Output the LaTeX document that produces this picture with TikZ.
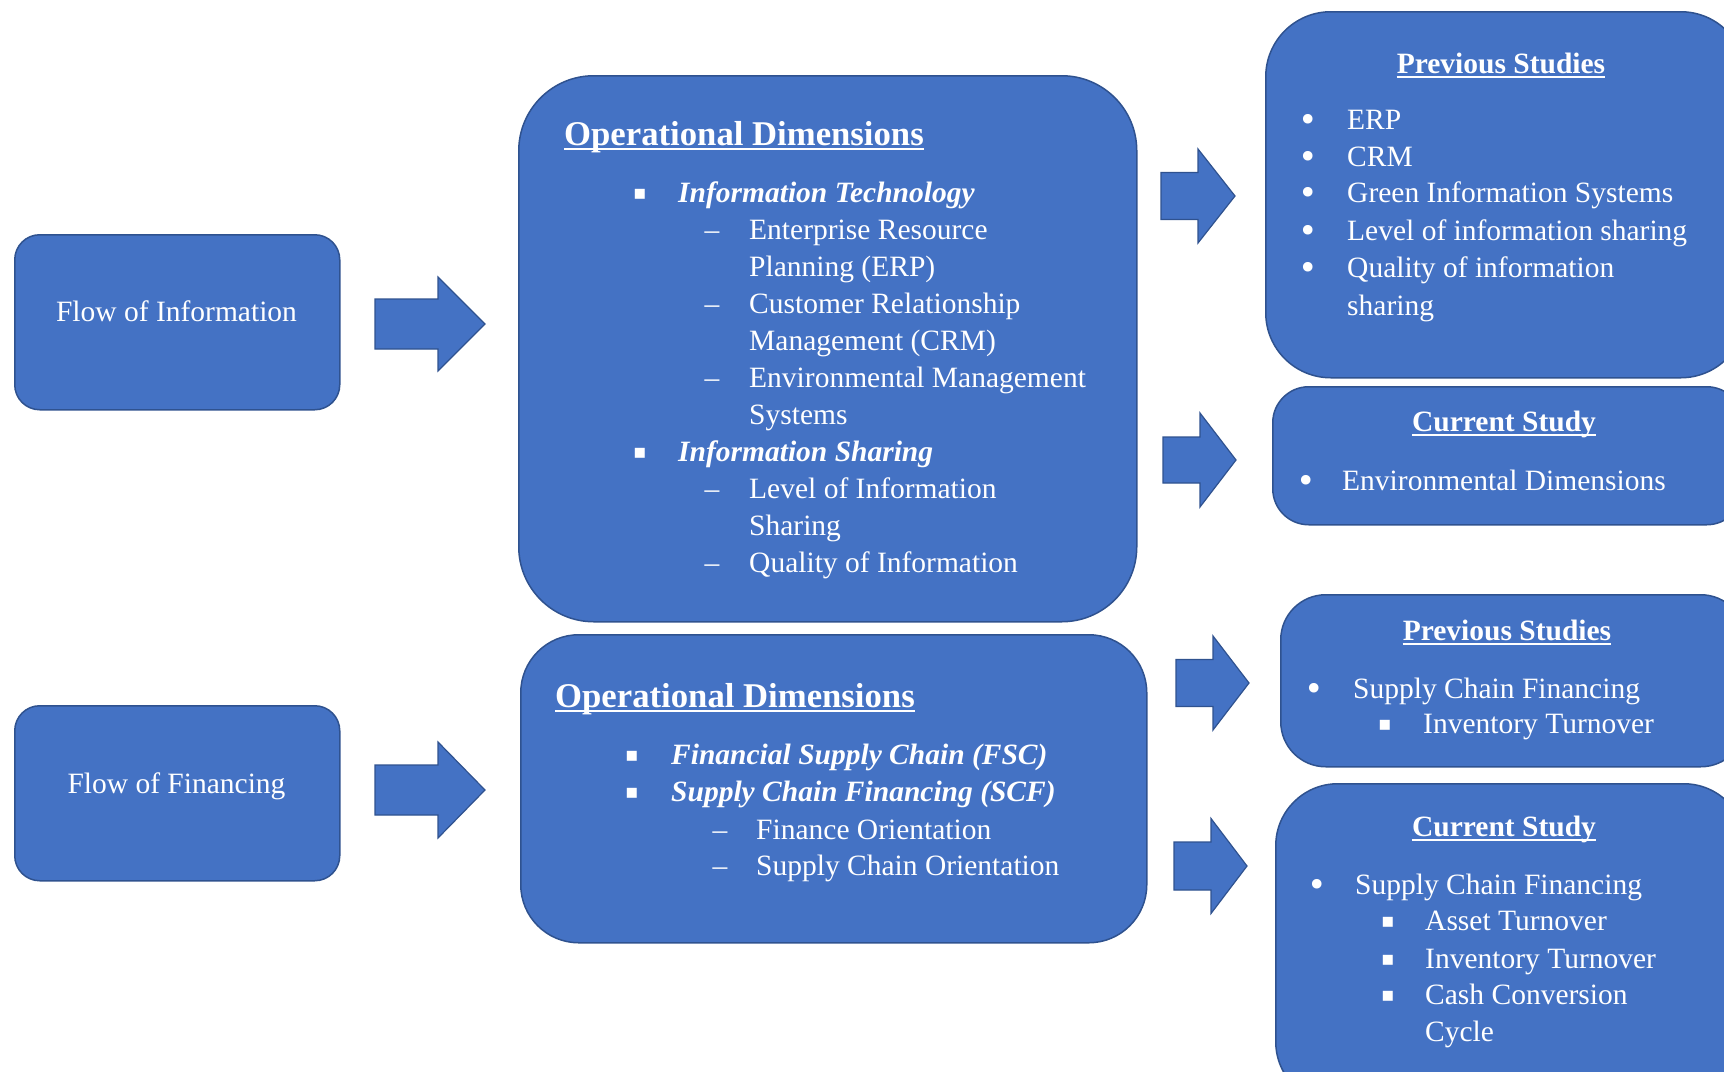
\documentclass[tikz,border=0pt]{standalone}
\usepackage{fontspec}
\setmainfont{Liberation Serif}
\newfontfamily\symfont{DejaVu Sans}
\definecolor{boxblue}{HTML}{4472C4}
\definecolor{edgeblue}{HTML}{2F528F}
\newcommand{\blockarrow}[7]{%
  \draw[barrow] ({#1},{#4-#5}) -- ({#2},{#4-#5}) -- ({#2},{#4-#6}) -- ({#3},{#4})
    -- ({#2},{#4+#6}) -- ({#2},{#4+#5}) -- ({#1},{#4+#5}) -- cycle;
  \coordinate (#7) at ({#3},{#4});}
\begin{document}
\begin{tikzpicture}[x=1pt,y=-1pt,
  box/.style={draw=edgeblue, line width=1.5pt, fill=boxblue, rectangle, anchor=north west, inner sep=0pt},
  barrow/.style={draw=edgeblue, line width=1.2pt, fill=boxblue, line join=miter},
  body/.style={inner sep=0pt, text=white, font=\fontsize{29.5}{35}\selectfont},
  lft/.style={body, anchor=base west},
  ctr/.style={body, anchor=base},
  bi/.style={lft, font=\fontsize{29.5}{35}\selectfont\bfseries\itshape},
  hd/.style={body, anchor=base west, font=\fontsize{34.7}{40}\selectfont\bfseries},
  sh/.style={body, anchor=base, font=\fontsize{29.5}{35}\selectfont\bfseries},
  sq/.style={body, anchor=base, yshift=3pt, font=\symfont\fontsize{20}{24}\selectfont},
  dot/.style={body, anchor=base, yshift=-2pt, font=\symfont\fontsize{33}{36}\selectfont},
  uline/.style={draw=white, line width=1.6pt}]
\useasboundingbox (0,0) rectangle (1724,1071);
\clip (0,0) rectangle (1724,1071);

% boxes
\node[box, rounded corners=25pt, minimum width=325pt, minimum height=175pt] (flowI) at (14,234) {};
\node[box, rounded corners=25pt, minimum width=325pt, minimum height=175pt] (flowF) at (14,705) {};
\node[box, rounded corners=75pt, minimum width=618pt, minimum height=546pt] (od1) at (518,75) {};
\node[box, rounded corners=58pt, minimum width=626pt, minimum height=308pt] (od2) at (520,634) {};
\node[box, rounded corners=65pt, minimum width=480pt, minimum height=366pt] (ps1) at (1265,11) {};
\node[box, rounded corners=36pt, minimum width=470pt, minimum height=138pt] (cs1) at (1272,386) {};
\node[box, rounded corners=45pt, minimum width=465pt, minimum height=172pt] (ps2) at (1280,594) {};
\node[box, rounded corners=62pt, minimum width=470pt, minimum height=320pt] (cs2) at (1275,783) {};

% block arrows
\blockarrow{375}{438}{485}{324}{25}{47}{a1}
\blockarrow{375}{438}{485}{790}{25}{48}{a2}
\blockarrow{1161}{1198}{1235}{196}{23.5}{47}{a3}
\blockarrow{1163}{1200}{1236}{460}{23}{47}{a4}
\blockarrow{1176}{1213}{1249}{683}{23.5}{47}{a5}
\blockarrow{1174}{1211}{1247}{866}{24}{47.5}{a6}

% flow texts
\node[ctr] (tFI) at (176.5,321) {Flow of Information};
\node[ctr] (tFF) at (176.5,793) {Flow of Financing};

% top operational dimensions
\node[hd] (h1) at (564,145) {Operational Dimensions};
\draw[uline] ([yshift=-4pt]h1.base west) -- ([yshift=-4pt]h1.base east);
\node[sq] (s11) at (640,202) {▪};
\node[bi] (t11) at (678,202) {Information Technology};
\node[ctr] (d11) at (712,239) {–};
\node[lft] (t12) at (749,239) {Enterprise Resource};
\node[lft] (t13) at (749,276) {Planning (ERP)};
\node[ctr] (d12) at (712,313) {–};
\node[lft] (t14) at (749,313) {Customer Relationship};
\node[lft] (t15) at (749,350) {Management (CRM)};
\node[ctr] (d13) at (712,387) {–};
\node[lft] (t16) at (749,387) {Environmental Management};
\node[lft] (t17) at (749,424) {Systems};
\node[sq] (s12) at (640,461) {▪};
\node[bi] (t18) at (678,461) {Information Sharing};
\node[ctr] (d14) at (712,498) {–};
\node[lft] (t19) at (749,498) {Level of Information};
\node[lft] (t110) at (749,535) {Sharing};
\node[ctr] (d15) at (712,572) {–};
\node[lft] (t111) at (749,572) {Quality of Information};

% previous studies (top)
\node[sh] (h2) at (1501,73) {Previous Studies};
\draw[uline] ([yshift=-4pt]h2.base west) -- ([yshift=-4pt]h2.base east);
\node[dot] (b21) at (1308,129) {•};
\node[lft] (t21) at (1347,129) {ERP};
\node[dot] (b22) at (1308,166) {•};
\node[lft] (t22) at (1347,166) {CRM};
\node[dot] (b23) at (1308,202) {•};
\node[lft] (t23) at (1347,202) {Green Information Systems};
\node[dot] (b24) at (1308,240) {•};
\node[lft] (t24) at (1347,240) {Level of information sharing};
\node[dot] (b25) at (1308,277) {•};
\node[lft] (t25) at (1347,277) {Quality of information};
\node[lft] (t26) at (1347,315) {sharing};

% current study (top)
\node[sh] (h3) at (1504,431) {Current Study};
\draw[uline] ([yshift=-4pt]h3.base west) -- ([yshift=-4pt]h3.base east);
\node[dot] (b31) at (1306,490) {•};
\node[lft] (t31) at (1342,490) {Environmental Dimensions};

% bottom operational dimensions
\node[hd] (h4) at (555,707) {Operational Dimensions};
\draw[uline] ([yshift=-4pt]h4.base west) -- ([yshift=-4pt]h4.base east);
\node[sq] (s41) at (632,764) {▪};
\node[bi] (t41) at (671,764) {Financial Supply Chain (FSC)};
\node[sq] (s42) at (632,801) {▪};
\node[bi] (t42) at (671,801) {Supply Chain Financing (SCF)};
\node[ctr] (d41) at (720,839) {–};
\node[lft] (t43) at (756,839) {Finance Orientation};
\node[ctr] (d42) at (720,875) {–};
\node[lft] (t44) at (756,875) {Supply Chain Orientation};

% previous studies (bottom)
\node[sh] (h5) at (1507,640) {Previous Studies};
\draw[uline] ([yshift=-4pt]h5.base west) -- ([yshift=-4pt]h5.base east);
\node[dot] (b51) at (1314,698) {•};
\node[lft] (t51) at (1353,698) {Supply Chain Financing};
\node[sq] (s51) at (1385,733) {▪};
\node[lft] (t52) at (1423,733) {Inventory Turnover};

% current study (bottom)
\node[sh] (h6) at (1504,836) {Current Study};
\draw[uline] ([yshift=-4pt]h6.base west) -- ([yshift=-4pt]h6.base east);
\node[dot] (b61) at (1317,894) {•};
\node[lft] (t61) at (1355,894) {Supply Chain Financing};
\node[sq] (s61) at (1388,930) {▪};
\node[lft] (t62) at (1425,930) {Asset Turnover};
\node[sq] (s62) at (1388,968) {▪};
\node[lft] (t63) at (1425,968) {Inventory Turnover};
\node[sq] (s63) at (1388,1004) {▪};
\node[lft] (t64) at (1425,1004) {Cash Conversion};
\node[lft] (t65) at (1425,1041) {Cycle};
\end{tikzpicture}
\end{document}
